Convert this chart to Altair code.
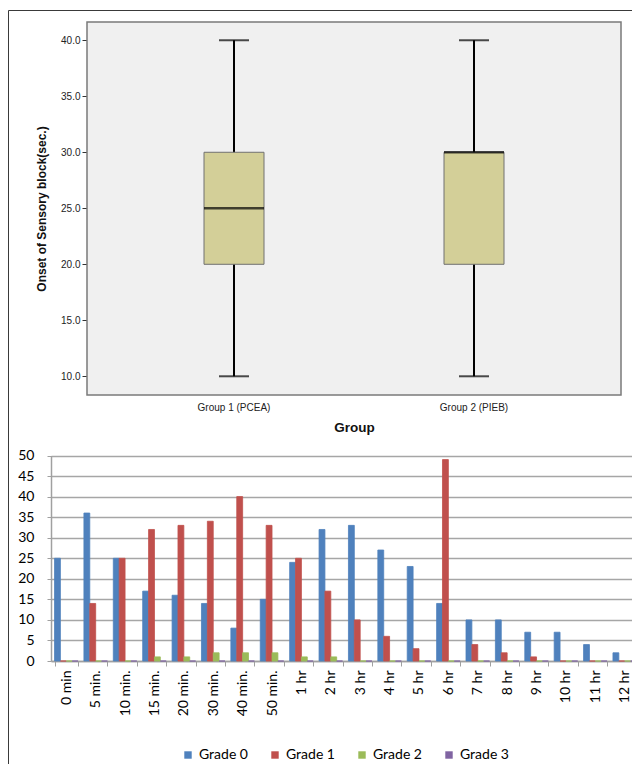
import altair as alt
import pandas as pd

# ---- top panel: box plot summary values ----
groups = ["Group 1 (PCEA)", "Group 2 (PIEB)"]
mins = [10, 10]
q1s = [20, 20]
medians = [25, 30]
q3s = [30, 30]
maxs = [40, 40]

# ---- bottom panel: grouped bars ----
times = ["0 min", "5 min.", "10 min.", "15 min.", "20 min.", "30 min.", "40 min.",
         "50 min.", "1 hr", "2 hr", "3 hr", "4 hr", "5 hr", "6 hr", "7 hr", "8 hr",
         "9 hr", "10 hr", "11 hr", "12 hr"]
grade0 = [25, 36, 25, 17, 16, 14, 8, 15, 24, 32, 33, 27, 23, 14, 10, 10, 7, 7, 4, 2]
grade1 = [0, 14, 25, 32, 33, 34, 40, 33, 25, 17, 10, 6, 3, 49, 4, 2, 1, 0, 0, 0]
grade2 = [0, 0, 0, 1, 1, 2, 2, 2, 1, 1, 0, 0, 0, 0, 0, 0, 0, 0, 0, 0]
grade3 = [0, 0, 0, 0, 0, 0, 0, 0, 0, 0, 0, 0, 0, 0, 0, 0, 0, 0, 0, 0]
grades = ["Grade 0", "Grade 1", "Grade 2", "Grade 3"]
grade_colors = ["#4F81BD", "#C0504D", "#9BBB59", "#8064A2"]

box_df = pd.DataFrame({"group": groups, "min": mins, "q1": q1s,
                       "median": medians, "q3": q3s, "max": maxs})

rows = []
for g, vals in zip(grades, [grade0, grade1, grade2, grade3]):
    for t, v in zip(times, vals):
        rows.append({"time": t, "grade": g, "value": v})
bar_df = pd.DataFrame(rows)
one = pd.DataFrame({"k": [0]})

W, H = 624, 756
FRAME = "#3a3a3a"

# top panel geometry (chart coordinates)
T_L, T_R, T_T, T_B = 79, 613, 14, 387
# bottom panel geometry
B_L, B_R, B_T, B_B = 43, 632, 447.5, 653

# ---------------- frame and plot background ----------------
frame_top = alt.Chart(one).mark_rule(color=FRAME, strokeWidth=1).encode(
    x=alt.value(0.5), x2=alt.value(W), y=alt.value(2.5))
frame_left = alt.Chart(one).mark_rule(color=FRAME, strokeWidth=1).encode(
    x=alt.value(0.5), y=alt.value(2.5), y2=alt.value(H))
plot_bg = alt.Chart(one).mark_rect(fill="#F0F0F0", stroke="#7A7A7A", strokeWidth=1.5).encode(
    x=alt.value(T_L), x2=alt.value(T_R), y=alt.value(T_T), y2=alt.value(T_B))

# ---------------- top chart ----------------
xg = alt.X("group:N", sort=groups,
           scale=alt.Scale(range=[T_L, T_R], paddingInner=0, paddingOuter=0.1125),
           axis=alt.Axis(orient="bottom", offset=-(H - T_B), title="Group", labelAngle=0,
                         ticks=False, domain=False, grid=False,
                         labelFont="Liberation Sans", labelFontSize=10,
                         labelColor="#222222", labelPadding=7,
                         titleFont="Liberation Sans", titleFontSize=13.5,
                         titleFontWeight="bold", titleColor="#111111",
                         titlePadding=8))
yscale = alt.Scale(domain=[8.33, 41.63], range=[T_B, T_T], nice=False, zero=False)
yax = alt.Axis(orient="left", offset=-T_L, title="Onset of Sensory block(sec.)",
               values=[10, 15, 20, 25, 30, 35, 40],
               format=".1f", grid=False, domain=False, tickSize=5, tickColor="#333333",
               labelPadding=2, labelFont="Liberation Sans", labelFontSize=10,
               labelColor="#222222", titleFont="Liberation Sans", titleFontSize=12,
               titleFontWeight="bold", titleColor="#111111", titlePadding=12)

base = alt.Chart(box_df)
whisk = base.mark_rule(color="black", strokeWidth=2).encode(
    x=xg, y=alt.Y("min:Q", scale=yscale, axis=yax), y2="max:Q")
box = base.mark_bar(size=60, fill="#D3CF98", stroke="#707070", strokeWidth=1).encode(
    x=xg, y=alt.Y("q1:Q", scale=yscale, axis=yax), y2="q3:Q")
med = base.mark_tick(size=60, thickness=2.5, color="black").encode(
    x=xg, y=alt.Y("median:Q", scale=yscale, axis=yax))
capmin = base.mark_tick(size=30, thickness=2, color="black").encode(
    x=xg, y=alt.Y("min:Q", scale=yscale, axis=yax))
capmax = base.mark_tick(size=30, thickness=2, color="black").encode(
    x=xg, y=alt.Y("max:Q", scale=yscale, axis=yax))

top = alt.layer(whisk, box, med, capmin, capmax)

# ---------------- bottom chart ----------------
bars = alt.Chart(bar_df).mark_bar(strokeWidth=0.8).encode(
    x=alt.X("time:N", sort=times,
            scale=alt.Scale(range=[B_L, B_R], paddingInner=0.2, paddingOuter=0.12),
            axis=alt.Axis(orient="bottom", offset=-(H - B_B), title=None, labelAngle=-90,
                          tickBand="extent", tickSize=5,
                          tickColor="#A0A0A0", domainColor="#A0A0A0", domainWidth=1.5,
                          labelFont="Lato", labelFontSize=14, labelColor="black",
                          labelPadding=4, grid=False)),
    xOffset=alt.XOffset("grade:N", sort=grades,
                        scale=alt.Scale(paddingInner=0, paddingOuter=0)),
    y=alt.Y("value:Q", scale=alt.Scale(domain=[0, 50], range=[B_B, B_T], nice=False),
            axis=alt.Axis(orient="left", offset=-B_L, title=None,
                          values=list(range(0, 51, 5)), grid=True,
                          gridColor="#A6A6A6", gridWidth=1.5, tickSize=4,
                          tickColor="#A0A0A0", domainColor="#A0A0A0", domainWidth=1.5,
                          labelFont="Lato", labelFontSize=14, labelColor="black",
                          labelPadding=13)),
    color=alt.Color("grade:N", sort=grades,
                    scale=alt.Scale(domain=grades, range=grade_colors),
                    legend=alt.Legend(orient="none", legendX=173, legendY=740,
                                      direction="horizontal", title=None,
                                      symbolType="square", symbolSize=55,
                                      symbolStrokeWidth=0, labelFont="Lato",
                                      labelFontSize=14, labelColor="black",
                                      columnPadding=20, padding=0, labelOffset=4)),
    stroke=alt.Stroke("grade:N", sort=grades,
                      scale=alt.Scale(domain=grades, range=grade_colors), legend=None),
)

chart = alt.layer(plot_bg, frame_top, frame_left, top, bars).resolve_scale(
    x="independent", y="independent"
).properties(
    width=W, height=H,
    autosize=alt.AutoSizeParams(type="none"),
    padding={"left": 0, "top": 0, "right": 0, "bottom": 0},
    background="white",
    view=alt.ViewBackground(stroke="transparent"),
)

chart.save("out.html", embed_options={"renderer": "svg", "actions": False})
